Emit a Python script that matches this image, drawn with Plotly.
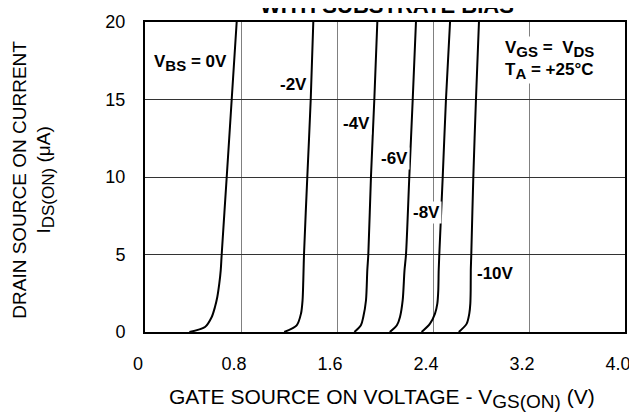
import plotly.graph_objects as go

# Drain current values (uA) at which each curve was sampled
vbs_labels = ["0V", "-2V", "-4V", "-6V", "-8V", "-10V"]

i_0v = [0, 0.32, 0.97, 1.61, 2.26, 3.12, 3.98, 5, 10, 15, 20]
v_0v = [0.37, 0.50, 0.556, 0.583, 0.6025, 0.619, 0.631, 0.639, 0.681, 0.7225, 0.764]

i_2v = [0, 0.43, 1.19, 2.05, 3.3, 5, 10, 15, 20]
v_2v = [1.16, 1.264, 1.30, 1.313, 1.319, 1.325, 1.3525, 1.381, 1.4025]

i_4v = [0, 0.45, 0.97, 2.05, 3.98, 5, 10, 15, 20]
v_4v = [1.745, 1.80, 1.819, 1.8417, 1.8525, 1.861, 1.883, 1.911, 1.936]

i_6v = [0, 0.45, 0.97, 2.05, 3.98, 5, 10, 15, 20]
v_6v = [2.04, 2.10, 2.125, 2.1475, 2.1625, 2.175, 2.2025, 2.231, 2.258]

i_8v = [0, 0.54, 1.19, 1.83, 2.69, 3.98, 5, 10, 15, 20]
v_8v = [2.305, 2.375, 2.4167, 2.436, 2.444, 2.4475, 2.4525, 2.481, 2.508, 2.542]

i_10v = [0, 0.54, 1.19, 1.83, 2.69, 3.98, 5, 10, 15, 20]
v_10v = [2.615, 2.681, 2.7025, 2.711, 2.714, 2.715, 2.719, 2.736, 2.758, 2.783]

x_ticks = [0, 0.8, 1.6, 2.4, 3.2, 4.0]
x_tick_text = ["0", "0.8", "1.6", "2.4", "3.2", "4.0"]
y_ticks = [0, 5, 10, 15, 20]

FONT = "Liberation Sans, Arial, sans-serif"


def sub(t, size):
    return '<sub><span style="font-size:%dpx">%s</span></sub>' % (size, t)


fig = go.Figure()
for v, i in [(v_0v, i_0v), (v_2v, i_2v), (v_4v, i_4v), (v_6v, i_6v), (v_8v, i_8v), (v_10v, i_10v)]:
    fig.add_trace(go.Scatter(x=v, y=i, mode="lines",
                             line=dict(color="black", width=2, shape="spline", smoothing=0.8),
                             showlegend=False, hoverinfo="skip"))

lab_font = dict(family=FONT, size=17, color="black")
ann = [
    dict(x=0.383, y=17.34, text="<b>V" + sub("BS", 15) + " = 0V</b>"),
    dict(x=1.2375, y=15.96, text="<b>-2V</b>"),
    dict(x=1.7625, y=13.45, text="<b>-4V</b>"),
    dict(x=2.075, y=11.21, text="<b>-6V</b>"),
    dict(x=2.346, y=7.68, text="<b>-8V</b>"),
    dict(x=2.917, y=3.79, text="<b>-10V</b>"),
]
for a in ann:
    fig.add_annotation(xref="x", yref="y", showarrow=False, font=lab_font,
                       bgcolor="white", borderpad=1, **a)

fig.add_annotation(xref="x", yref="y", x=2.983, y=17.53, xanchor="left", align="left",
                   showarrow=False, font=lab_font, bgcolor="white",
                   text="<b>V" + sub("GS", 15) + " =  V" + sub("DS", 15) + "<br>T"
                        + sub("A", 15) + " = +25°C</b>")

# title (cut off at top)
fig.add_annotation(xref="paper", yref="paper", x=0.505, y=1.052, yanchor="middle",
                   showarrow=False, font=dict(family=FONT, size=22, color="black"),
                   text="<b>WITH SUBSTRATE BIAS</b>")

# axis titles
fig.add_annotation(xref="paper", yref="paper", x=0.494, y=-0.215, yanchor="middle",
                   showarrow=False, font=dict(family=FONT, size=21, color="black"),
                   text="GATE SOURCE ON VOLTAGE - V" + sub("GS(ON)", 19) + " (V)")
fig.add_annotation(xref="paper", yref="paper", x=-0.232, y=0.49, xanchor="center",
                   textangle=-90, showarrow=False,
                   font=dict(family=FONT, size=19, color="black"),
                   text="DRAIN SOURCE ON CURRENT<br>I" + sub("DS(ON)", 17) + " (μA)")

fig.update_xaxes(range=[0, 4.0], tickvals=x_ticks, ticktext=x_tick_text,
                 showgrid=True, gridcolor="#808080", gridwidth=1, zeroline=False,
                 showline=True, mirror=True, linecolor="black", linewidth=2,
                 ticks="", ticklabelstandoff=14, ticklabelshift=-7, automargin=False,
                 tickfont=dict(family=FONT, size=18, color="black"))
fig.update_yaxes(range=[0, 20], tickvals=y_ticks,
                 showgrid=True, gridcolor="#333333", gridwidth=1, zeroline=False,
                 showline=True, mirror=True, linecolor="black", linewidth=2,
                 ticks="", ticklabelstandoff=14, automargin=False,
                 tickfont=dict(family=FONT, size=18, color="black"))

fig.update_layout(width=637, height=414, margin=dict(l=137, r=20, t=14, b=90),
                  plot_bgcolor="white", paper_bgcolor="white",
                  font=dict(family=FONT, color="black"))

fig.write_html("out.html")
